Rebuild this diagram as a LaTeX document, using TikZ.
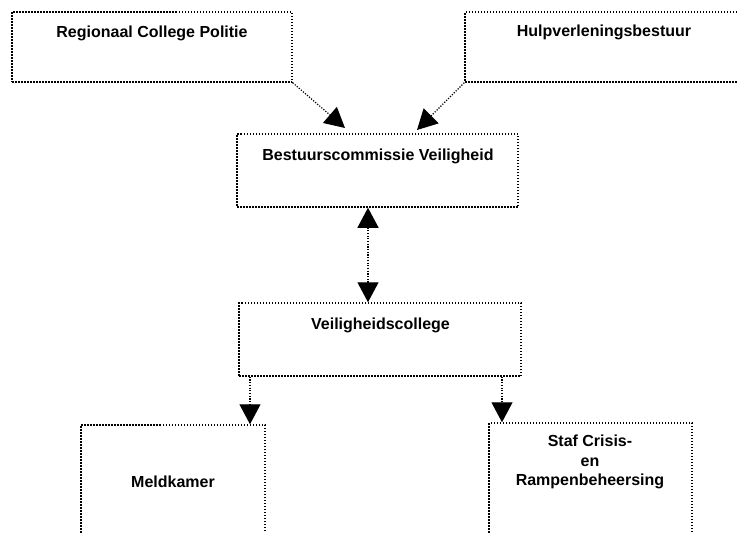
\documentclass[tikz,border=0pt]{standalone}
\usepackage{fontspec}
\setmainfont{Liberation Sans}
\usetikzlibrary{arrows.meta}
\tikzset{
  box/.style={draw, line width=1.5pt, dash pattern=on 1.5pt off 1.5pt, inner sep=0pt},
  lbl/.style={font=\fontsize{16}{19.5}\selectfont\bfseries, inner sep=0pt, anchor=base, align=center},
  arr/.style={line width=1.2pt, dash pattern=on 1.2pt off 1.5pt, -{Triangle[length=20pt,width=21pt]}},
  darr/.style={line width=1.2pt, dash pattern=on 1.2pt off 1.5pt, {Triangle[length=20pt,width=21pt]}-{Triangle[length=20pt,width=21pt]}}
}
\begin{document}
\begin{tikzpicture}[x=1pt,y=-1pt]
\useasboundingbox (0,0) rectangle (737,533);
% boxes
\node[box, minimum width=280pt, minimum height=70pt] (tl) at (152,47) {};
\node[box, minimum width=278pt, minimum height=70pt] (tr) at (604,47) {};
\node[box, minimum width=281pt, minimum height=73pt] (bc) at (377.5,170.5) {};
\node[box, minimum width=282pt, minimum height=73pt] (vc) at (380,339.5) {};
\node[box, minimum width=184pt, minimum height=135pt] (mk) at (173,492.5) {};
\node[box, minimum width=203pt, minimum height=137pt] (sc) at (590.5,491.5) {};
% labels
\node[lbl] (tlt) at (152,37) {Regionaal College Politie};
\node[lbl] (trt) at (604,36) {Hulpverleningsbestuur};
\node[lbl] (bct) at (378,160) {Bestuurscommissie Veiligheid};
\node[lbl] (vct) at (380.5,329) {Veiligheidscollege};
\node[lbl] (mkt) at (173,487) {Meldkamer};
\node[lbl] (sct) at (590,485.5) {Staf Crisis-\\en\\Rampenbeheersing};
% connectors
\coordinate (a1) at (345,128);
\coordinate (a2) at (417,130);
\draw[arr] (tl.south east) -- (a1);
\draw[arr] (tr.south west) -- (a2);
\coordinate (dx) at (368,0);
\draw[darr] (dx |- bc.south) -- (dx |- vc.north);
\coordinate (mx) at (250,0);
\coordinate (sx) at (502,0);
\draw[arr] (mx |- vc.south) -- (mx |- mk.north);
\draw[arr] (sx |- vc.south) -- (sx |- sc.north);
\end{tikzpicture}
\end{document}
